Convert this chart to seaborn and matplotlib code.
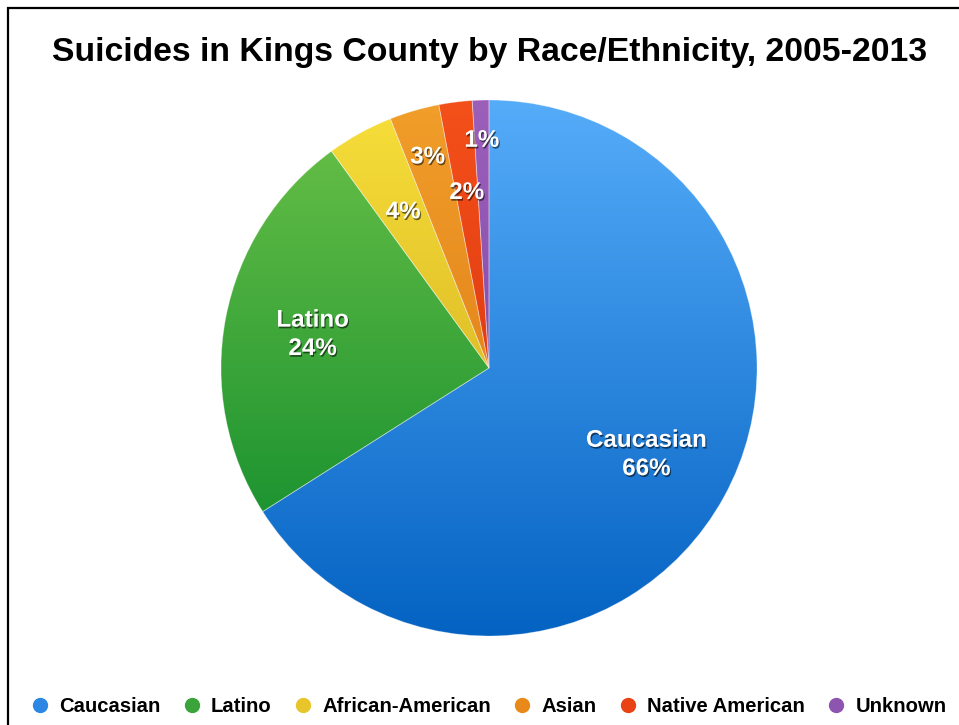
import numpy as np
import matplotlib
matplotlib.use("Agg")
import matplotlib.pyplot as plt
import matplotlib.patheffects as pe
from matplotlib.lines import Line2D
from matplotlib.colors import to_rgb
import seaborn as sns

# Suicides by race/ethnicity, Kings County 2005-2013 (percent of total)
categories = ["Caucasian", "Latino", "African-American", "Asian", "Native American", "Unknown"]
shares = [66, 24, 4, 3, 2, 1]
labels = ["Caucasian\n66%", "Latino\n24%", "4%", "3%", "2%", "1%"]

# vertical gradient for each slice: colour at the top and bottom of the pie
top_colors = ["#55acf9", "#6cc248", "#f7df3a", "#f19e2a", "#f4501a", "#9c5fba"]
bottom_colors = ["#0462c2", "#06862a", "#c9a018", "#d87010", "#d02a0a", "#6f42a0"]
legend_colors = ["#2b87e3", "#3aa33a", "#e8c52a", "#e8891a", "#e84215", "#8e55b0"]

sns.set_theme(style="white")
plt.rcParams["font.family"] = ["Liberation Sans", "DejaVu Sans"]

W, H = 959, 725
fig = plt.figure(figsize=(W / 100, H / 100), dpi=100)
fig.patch.set_facecolor("white")

# square axes holding the pie: centre (489, 368) px, radius 268 px
cx, cy, r = 489, 368, 268
ax = fig.add_axes([(cx - r) / W, (H - cy - r) / H, 2 * r / W, 2 * r / H])

wedges, _ = ax.pie(shares, startangle=90, counterclock=False, radius=1, frame=False,
                   wedgeprops=dict(linewidth=0.6, edgecolor=(1, 1, 1, 0.35)))

n = 256
for w, ct, cb in zip(wedges, top_colors, bottom_colors):
    t = np.linspace(0, 1, n)[:, None]
    grad = (1 - t) * np.array(to_rgb(ct)) + t * np.array(to_rgb(cb))
    img = ax.imshow(grad[:, None, :], extent=(-1, 1, -1, 1), origin="upper",
                    aspect="auto", zorder=1, interpolation="bilinear")
    img.set_clip_path(w)
    w.set_facecolor("none")
    w.set_zorder(2)
ax.set_xlim(-1, 1)
ax.set_ylim(-1, 1)
ax.set_aspect("equal")
ax.axis("off")

# label placement distances (fraction of radius), staggered for the thin slices
dists = [0.67, 0.67, 0.665, 0.82, 0.66, 0.85]
shadow = [pe.withSimplePatchShadow(offset=(0.8, -1.2), shadow_rgbFace="black", alpha=0.55)]
for w, lab, d in zip(wedges, labels, dists):
    ang = np.deg2rad((w.theta1 + w.theta2) / 2)
    ax.text(d * np.cos(ang), d * np.sin(ang), lab, ha="center", va="center",
            color="white", fontsize=17.4, fontweight="bold", linespacing=1.3,
            zorder=5, path_effects=shadow)

fig.text(490 / W, 1 - 52 / H, "Suicides in Kings County by Race/Ethnicity, 2005-2013",
         ha="center", va="center", fontsize=24.3, fontweight="bold", color="black")

handles = [Line2D([], [], marker="o", linestyle="none", markersize=10,
                  markerfacecolor=c, markeredgecolor=c) for c in legend_colors]
leg = fig.legend(handles, categories, loc="center", bbox_to_anchor=(489.5 / W, 1 - 707 / H),
                 ncol=6, frameon=False, handlelength=0.7, handletextpad=0.6,
                 columnspacing=1.19, prop=dict(size=14.6, weight="bold"))
for t in leg.get_texts():
    t.set_color("black")

# frame running off the right and bottom edges
frame = plt.Rectangle((8 / W, -0.1), 1.2, 1 - 8 / H + 0.1, transform=fig.transFigure,
                      fill=False, edgecolor="black", linewidth=1.6)
fig.add_artist(frame)

fig.savefig("out.png", dpi=100)
